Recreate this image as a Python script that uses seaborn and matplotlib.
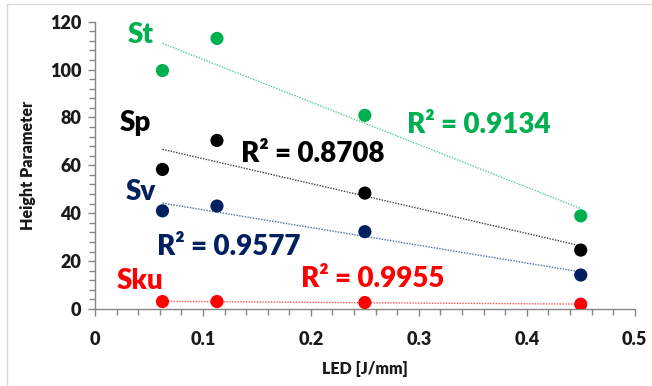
import numpy as np
import pandas as pd
import matplotlib
matplotlib.use("Agg")
import matplotlib.pyplot as plt
from matplotlib.lines import Line2D
from matplotlib.ticker import MultipleLocator
import seaborn as sns

# ---- data ----
led = [0.0625, 0.113, 0.25, 0.45]
st = [99.6, 113.0, 80.9, 38.9]
sp = [58.3, 70.4, 48.4, 24.6]
sv = [41.0, 43.0, 32.3, 14.2]
sku = [3.1, 3.1, 2.7, 2.0]
series_names = ["St", "Sp", "Sv", "Sku"]
r2_labels = ["R² = 0.9134", "R² = 0.8708", "R² = 0.9577", "R² = 0.9955"]
x_ticks = [0, 0.1, 0.2, 0.3, 0.4, 0.5]
y_ticks = [0, 20, 40, 60, 80, 100, 120]

sns.set_theme(style="white")
plt.rcParams["font.family"] = ["Lato", "DejaVu Sans"]

colors = ["#00B050", "#000000", "#002060", "#FF0000"]
line_colors = ["#4FD08A", "#404040", "#4A6FA5", "#FF5050"]

series = [st, sp, sv, sku]
df = pd.DataFrame({
    "LED": led * 4,
    "value": st + sp + sv + sku,
    "series": sum([[n] * len(led) for n in series_names], []),
})

fig = plt.figure(figsize=(6.52, 3.86), dpi=100)
ax = fig.add_axes([0.1457, 0.1995, 0.9735 - 0.1457, 0.9438 - 0.1995])

for vals, lc in zip(series, line_colors):
    sns.regplot(x=led, y=vals, ci=None, scatter=False, ax=ax,
                line_kws=dict(ls=(0, (1, 1)), lw=1.0, color=lc))

sns.scatterplot(data=df, x="LED", y="value", hue="series", palette=colors,
                hue_order=series_names, s=90, edgecolor="none", legend=False,
                ax=ax, zorder=3)

ax.set_xlim(0, 0.5)
ax.set_ylim(0, 120)
ax.set_xticks(x_ticks)
ax.set_xticklabels(["0", "0.1", "0.2", "0.3", "0.4", "0.5"])
ax.set_yticks(y_ticks)
ax.set_yticklabels([str(v) for v in y_ticks])
ax.xaxis.set_minor_locator(MultipleLocator(0.02))
ax.yaxis.set_minor_locator(MultipleLocator(4))

for s in ["top", "right"]:
    ax.spines[s].set_visible(False)
for s in ["left", "bottom"]:
    ax.spines[s].set_color("#868686")
    ax.spines[s].set_linewidth(1.0)

ax.tick_params(axis="both", which="both", direction="out", color="#868686",
               width=1.0, bottom=True, left=True)
ax.tick_params(axis="both", which="major", length=5, labelsize=13, pad=5)
ax.tick_params(axis="both", which="minor", length=4)
ax.tick_params(axis="x", which="major", pad=11)
for lbl in ax.get_xticklabels() + ax.get_yticklabels():
    lbl.set_fontweight("heavy")
    lbl.set_color("#1a1a1a")

ax.set_xlabel("LED [J/mm]", fontsize=11.5, fontweight="heavy", labelpad=9,
              color="#1a1a1a")
ax.set_ylabel("Height Parameter", fontsize=11.5, fontweight="heavy",
              labelpad=10, color="#1a1a1a")

# series name labels
name_pos = [(0.042, 111.1), (0.0375, 74.4), (0.0426, 45.5), (0.0417, 8.2)]
for name, (x, y), c in zip(series_names, name_pos, colors):
    ax.text(x, y, name, color=c, fontsize=20, fontweight="heavy",
            ha="center", va="baseline")

r2_pos = [(0.3558, 73.4), (0.202, 61.5), (0.124, 22.6), (0.2577, 9.3)]
for lab, (x, y), c in zip(r2_labels, r2_pos, colors):
    ax.text(x, y, lab, color=c, fontsize=20, fontweight="heavy",
            ha="center", va="baseline")

# chart border (left and top visible)
fig.add_artist(Line2D([7 / 652, 7 / 652], [0, 1 - 4 / 386],
                      transform=fig.transFigure, color="#D9D9D9", lw=1))
fig.add_artist(Line2D([7 / 652, 1], [1 - 4 / 386, 1 - 4 / 386],
                      transform=fig.transFigure, color="#D9D9D9", lw=1))

fig.savefig("out.png", dpi=100)
